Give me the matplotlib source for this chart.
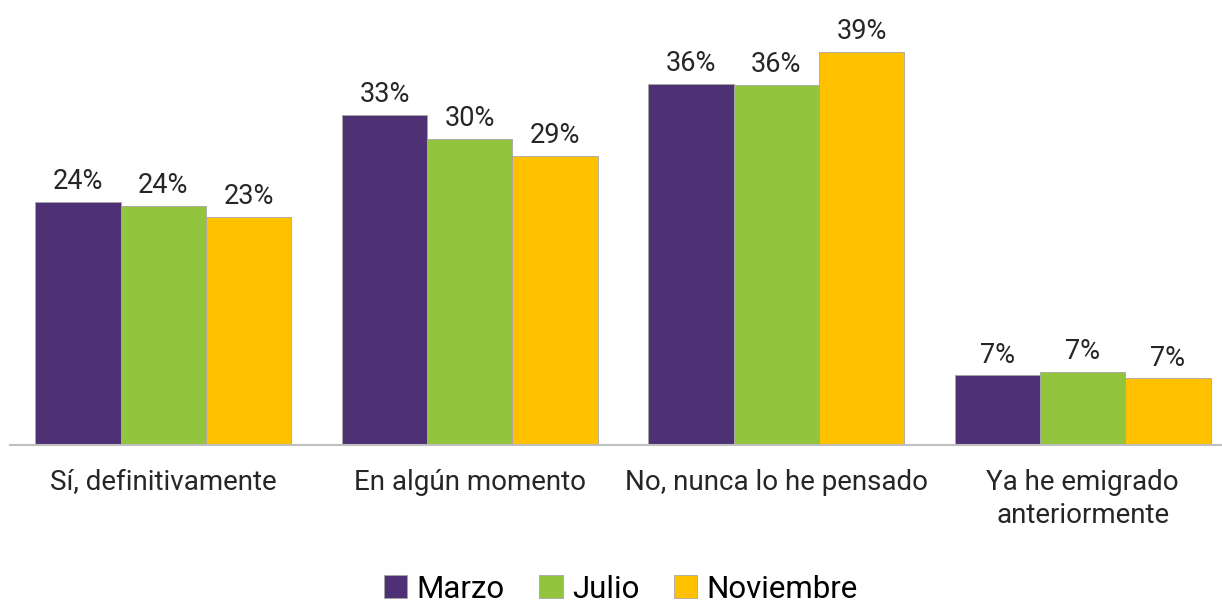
import numpy as np
import matplotlib
matplotlib.use('Agg')
import matplotlib.pyplot as plt

plt.rcParams['font.family'] = ['Roboto', 'DejaVu Sans']

categories = ['Sí, definitivamente', 'En algún momento', 'No, nunca lo he pensado', 'Ya he emigrado\nanteriormente']
series_names = ['Marzo', 'Julio', 'Noviembre']
marzo = [24.1, 32.7, 35.8, 6.9]
julio = [23.7, 30.4, 35.7, 7.2]
noviembre = [22.6, 28.7, 39.0, 6.6]
colors = ['#4E3175', '#92C43E', '#FFC000']

W, H = 1222, 605
fig = plt.figure(figsize=(W / 100, H / 100), dpi=100)
ax = fig.add_axes([10 / W, 160 / H, 1212 / W, 445 / H])

x = np.arange(len(categories))
bw = 0.278
for i, (vals, name, c) in enumerate(zip([marzo, julio, noviembre], series_names, colors)):
    pos = x + (i - 1) * bw
    bars = ax.bar(pos, vals, bw, color=c, edgecolor='#A6A6A6', linewidth=0.6, label=name)
    for b, v in zip(bars, vals):
        ax.annotate('{:.0f}%'.format(v), (b.get_x() + b.get_width() / 2, v),
                    xytext=(0, 5), textcoords='offset points', ha='center', va='bottom',
                    fontsize=19.5, color='#262626')

ax.set_xlim(-0.5, -0.5 + 1212 / 306.5)
ax.set_ylim(0, 44.15)
ax.set_yticks([])
ax.set_xticks(x)
ax.set_xticklabels(categories, fontsize=20, color='#262626', linespacing=1.3)
ax.tick_params(axis='x', length=0, pad=17)
for s in ['top', 'right', 'left']:
    ax.spines[s].set_visible(False)
ax.spines['bottom'].set_color('#BFBFBF')
ax.spines['bottom'].set_linewidth(1.5)

fig.legend(loc='center', bbox_to_anchor=(0.508, 16 / H), ncol=3, frameon=False,
           fontsize=22.5, handlelength=0.75, handleheight=0.75, handletextpad=0.3,
           columnspacing=1.1, borderpad=0.1)

fig.savefig('out.png', dpi=100)
